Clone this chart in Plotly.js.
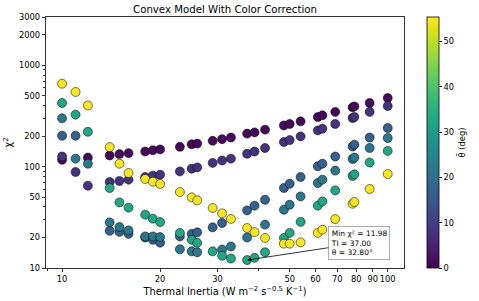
<!DOCTYPE html>
<html>
<head>
<meta charset="utf-8">
<script src="https://cdn.plot.ly/plotly-3.0.1.min.js"></script>
<style>html,body{margin:0;padding:0;background:#fff;}#chart{width:479px;height:301px;}</style>
</head>
<body>
<div id="chart"></div>
<script>
// ---- data ----
const tiPurple  = [10,12,14,15,16,18,19,20,23,25,26,29,31,33,37,39,42,48,50,54,61,63,69,78,79,88,100];
const chiPurple = [117,123,129,133,136,141,145,148,157,166,169,180,187,194,212,218,232,255,264,280,309,321,347,385,393,425,476];
const thetaPurple = 1;

const tiIndigo  = [10,11,12,14,15,16,18,19,20,23,25,26,29,31,33,37,39,42,48,50,54,61,63,69,78,79,88,100];
const chiIndigo = [126,88.6,64.9,70.6,72.2,74.4,79.1,81.5,83.3,89.8,95.5,98.4,109,115,120,134,141,153,175,183,199,228,237,264,302,309,347,397];
const thetaIndigo = 8;

const tiBlue  = [10,11,14,15,16,18,19,20,23,25,26,29,31,37,39,42,48,50,54,61,63,69,78,79,88,100];
const chiBlue = [202,202,23.3,22.7,21.7,20.0,19.0,17.8,20.5,21.7,22.5,25.2,27.8,37.0,41.2,47.2,61.6,67.9,79.1,101,107,126,158,165,194,241];
const thetaBlue = 17;

const tiTeal  = [10,11,12,14,15,16,18,19,20,23,25,26,31,33,37,42,48,50,54,61,63,69,78,79,88,100];
const chiTeal = [300,120,107,28.2,25.4,23.5,20.5,20.5,20.2,15.3,14.6,14.3,15.2,16.3,20.0,26.8,37.6,42.1,50.9,69.0,74.4,91.5,119,123,153,192];
const thetaTeal = 22;

const tiGreen  = [10,11,12,14,15,16,18,19,20,23,25,26,29,31,33,37,39,42,48,50,54,61,63,69,78,79,88,100];
const chiGreen = [425,326,221,61.6,44.4,39.4,33.6,30.7,28.4,22.2,19.0,17.7,14.6,13.2,12.4,11.98,12.6,14.3,19.8,22.2,28.5,41.2,45.4,58.3,81,84,110,143];
const thetaGreen = 32.8;

const tiYellow  = [10,11,12,14,15,16,18,19,20,23,25,26,29,31,33,37,39,42,48,50,54,61,63,69,78,79,88,100];
const chiYellow = [659,546,402,156,107,86.6,75.6,71.1,67.5,56.2,49.8,46.5,39.1,34.6,30.5,24.8,22.6,19.8,17.4,17.4,17.9,22.2,23.9,30.4,43.1,44.8,60.2,84.6];
const thetaYellow = 55;

const xTickVals = [10,20,30,50,60,70,80,90,100];
const yTickVals = [10,20,50,100,200,500,1000,2000,3000];
const cbTickVals = [0,10,20,30,40,50];

// ---- build one scatter ----
const groups = [
  [tiPurple, chiPurple, thetaPurple],
  [tiIndigo, chiIndigo, thetaIndigo],
  [tiBlue, chiBlue, thetaBlue],
  [tiTeal, chiTeal, thetaTeal],
  [tiGreen, chiGreen, thetaGreen],
  [tiYellow, chiYellow, thetaYellow]
];
const xs = [], ys = [], cs = [];
groups.forEach(g => g[0].forEach((t, i) => { xs.push(t); ys.push(g[1][i]); cs.push(g[2]); }));

let mi = 0;
ys.forEach((v, i) => { if (v < ys[mi]) mi = i; });

const font = 'DejaVu Sans, Arial, sans-serif';

const trace = {
  type: 'scatter', mode: 'markers', x: xs, y: ys, hoverinfo: 'none',
  marker: {
    size: 9, color: cs, colorscale: 'Viridis', cmin: 0, cmax: 55.4,
    line: {color: 'rgba(0,0,0,0.75)', width: 0.7},
    colorbar: {
      x: 1.0634, xanchor: 'left', xpad: 0, ypad: 0,
      y: 0.5, yanchor: 'middle', len: 1, lenmode: 'fraction',
      thickness: 12, thicknessmode: 'pixels',
      outlinecolor: '#000', outlinewidth: 0.8,
      tickmode: 'array', tickvals: cbTickVals,
      ticks: 'outside', ticklen: 3, tickcolor: '#000',
      tickfont: {family: font, size: 8.3, color: '#000'},
      title: {text: 'θ̄ (deg)', side: 'right', font: {family: font, size: 8.3, color: '#000'}}
    }
  }
};

const layout = {
  width: 479, height: 301,
  margin: {l: 46, r: 70, t: 17, b: 33},
  paper_bgcolor: '#fff', plot_bgcolor: '#fff',
  font: {family: font, size: 8.3, color: '#000'},
  showlegend: false,
  title: {text: 'Convex Model With Color Correction', x: 0.5, xref: 'paper', xanchor: 'center',
          y: 1 - 9.5/301, yref: 'container', yanchor: 'middle', font: {family: font, size: 10.2, color: '#000'}},
  xaxis: {
    type: 'log', range: [Math.log10(8.925), Math.log10(112.2)],
    tickmode: 'array', tickvals: xTickVals, ticktext: xTickVals.map(String), tickangle: 0,
    ticks: 'outside', ticklen: 3, tickwidth: 0.8, tickcolor: '#000',
    minor: {tickmode: 'array', tickvals: [9, 40], ticks: 'outside', ticklen: 2, tickcolor: '#000', showgrid: false},
    showline: true, mirror: true, linecolor: '#000', linewidth: 0.8,
    showgrid: false, zeroline: false, automargin: false,
    tickfont: {family: font, size: 8.3, color: '#000'},
    title: {text: 'Thermal Inertia (W m<sup>−2</sup> s<sup>−0.5</sup> K<sup>−1</sup>)', standoff: 5,
            font: {family: font, size: 9.8, color: '#000'}}
  },
  yaxis: {
    type: 'log', range: [1, Math.log10(3000)],
    tickmode: 'array', tickvals: yTickVals, ticktext: yTickVals.map(String), tickangle: 0,
    ticks: 'outside', ticklen: 3.5, tickwidth: 0.8, tickcolor: '#000',
    minor: {tickmode: 'array', tickvals: [30,40,60,70,80,90,300,400,600,700,800,900], ticks: 'outside', ticklen: 2, tickcolor: '#000', showgrid: false},
    showline: true, mirror: true, linecolor: '#000', linewidth: 0.8,
    showgrid: false, zeroline: false, automargin: false,
    tickfont: {family: font, size: 8.3, color: '#000'},
    title: {text: 'χ<sup>2</sup>', standoff: 4, font: {family: font, size: 9.8, color: '#000'}}
  },
  annotations: [{
    x: Math.log10(xs[mi]), y: Math.log10(ys[mi]), xref: 'x', yref: 'y',
    text: 'Min χ² = ' + ys[mi].toFixed(2) + '<br>TI = ' + xs[mi].toFixed(2) + '<br>θ = ' + cs[mi].toFixed(2) + '°',
    showarrow: true, arrowhead: 2, arrowsize: 0.9, arrowwidth: 0.8, arrowcolor: '#000',
    ax: 112, ay: -17, align: 'left',
    bgcolor: '#fff', bordercolor: '#999', borderwidth: 0.8, borderpad: 2,
    font: {family: font, size: 7.5, color: '#000'}
  }]
};

Plotly.newPlot('chart', [trace], layout, {displayModeBar: false, staticPlot: true});
</script>
</body>
</html>
